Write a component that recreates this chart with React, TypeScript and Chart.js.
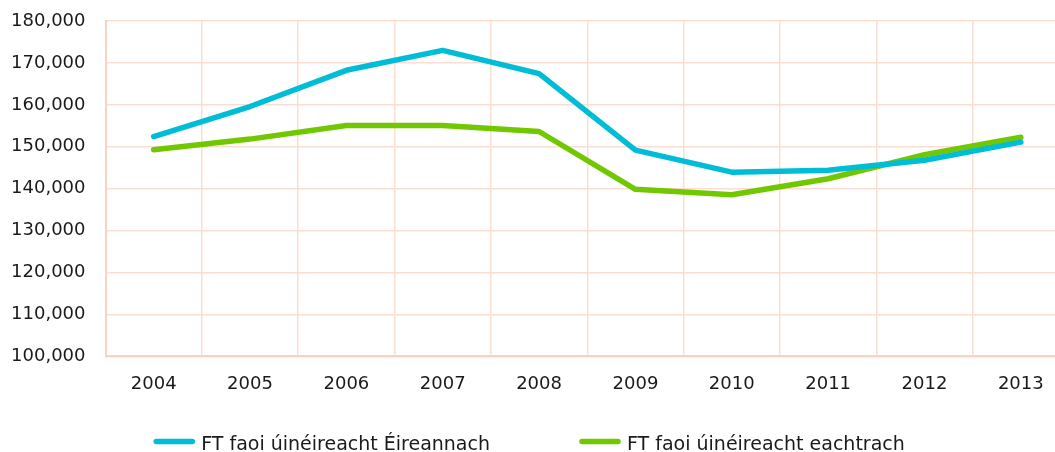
import React, { useEffect, useRef } from "react";
import { Chart, registerables } from "chart.js";

Chart.register(...registerables);

const years = ["2004", "2005", "2006", "2007", "2008", "2009", "2010", "2011", "2012", "2013"];
const irishOwned = [152450, 159600, 168240, 173000, 167450, 149190, 143950, 144400, 146800, 151100];
const foreignOwned = [149300, 151830, 155070, 155070, 153640, 139850, 138550, 142380, 148100, 152280];
const seriesLabels = ["FT faoi úinéireacht Éireannach", "FT faoi úinéireacht eachtrach"];
const yMin = 100000;
const yMax = 180000;
const yStep = 10000;

const FONT = '"DejaVu Sans", sans-serif';
const GRID = "#FBDDD2";
const BORDER = "#F8D2C4";

const legendPlugin = {
  id: "bottomLegend",
  afterDraw(chart: any) {
    const ctx = chart.ctx as CanvasRenderingContext2D;
    ctx.save();
    ctx.font = `19px ${FONT}`;
    const lineW = 42;
    const textGap = 6;
    const itemGap = 89;
    const items = chart.data.datasets.map((ds: any) => ({
      text: ds.label as string,
      color: ds.borderColor as string,
      w: ctx.measureText(ds.label).width,
    }));
    const total =
      items.reduce((s: number, it: any) => s + lineW + textGap + it.w, 0) + itemGap * (items.length - 1);
    let x = 521 - total / 2;
    const lineY = 433.5;
    const baseY = 441.5;
    items.forEach((it: any) => {
      ctx.beginPath();
      ctx.strokeStyle = it.color;
      ctx.lineWidth = 5.5;
      ctx.lineCap = "round";
      ctx.moveTo(x + 3, lineY);
      ctx.lineTo(x + lineW - 3, lineY);
      ctx.stroke();
      ctx.fillStyle = "#1a1a1a";
      ctx.textBaseline = "alphabetic";
      ctx.textAlign = "left";
      ctx.fillText(it.text, x + lineW + textGap, baseY);
      x += lineW + textGap + it.w + itemGap;
    });
    ctx.restore();
  },
};

export default function App() {
  const ref = useRef<HTMLCanvasElement | null>(null);

  useEffect(() => {
    document.documentElement.style.overflow = "hidden";
    document.body.style.marginRight = "0px";
    document.body.style.marginBottom = "0px";
    if (!ref.current) return;
    const chart = new Chart(ref.current, {
      type: "line",
      data: {
        labels: years,
        datasets: [
          {
            label: seriesLabels[0],
            data: irishOwned,
            borderColor: "#00BDD7",
            backgroundColor: "#00BDD7",
            borderWidth: 5.5,
            pointRadius: 0,
            tension: 0,
            borderJoinStyle: "round",
            borderCapStyle: "round",
          },
          {
            label: seriesLabels[1],
            data: foreignOwned,
            borderColor: "#72C800",
            backgroundColor: "#72C800",
            borderWidth: 5.5,
            pointRadius: 0,
            tension: 0,
            borderJoinStyle: "round",
            borderCapStyle: "round",
          },
        ],
      },
      options: {
        responsive: false,
        animation: false,
        locale: "en-US",
        layout: { padding: { left: 3, top: 13, right: 0, bottom: 40 } },
        plugins: {
          legend: { display: false },
          tooltip: { enabled: false },
        },
        scales: {
          x: {
            type: "category",
            offset: true,
            grid: { offset: true, color: GRID, lineWidth: 1.5, drawTicks: false },
            border: { color: BORDER, width: 2 },
            ticks: { color: "#1a1a1a", font: { family: FONT, size: 18 }, padding: 17 },
          },
          y: {
            min: yMin,
            max: yMax,
            grid: { color: GRID, lineWidth: 1.5, drawTicks: false },
            border: { color: BORDER, width: 2 },
            ticks: {
              stepSize: yStep,
              color: "#1a1a1a",
              font: { family: FONT, size: 18 },
              padding: 20,
              callback: (v: any) => Number(v).toLocaleString("en-US"),
            },
            afterFit: (scale: any) => {
              scale.width = 94.5;
              scale.paddingTop = 11;
              scale.paddingBottom = 11;
            },
          },
        },
      },
      plugins: [legendPlugin],
    });
    return () => chart.destroy();
  }, []);

  return (
    <div style={{ width: 1047, height: 444, overflow: "hidden" }}>
      <canvas ref={ref} width={1061} height={444} style={{ display: "block", width: 1061, height: 444 }} />
    </div>
  );
}
